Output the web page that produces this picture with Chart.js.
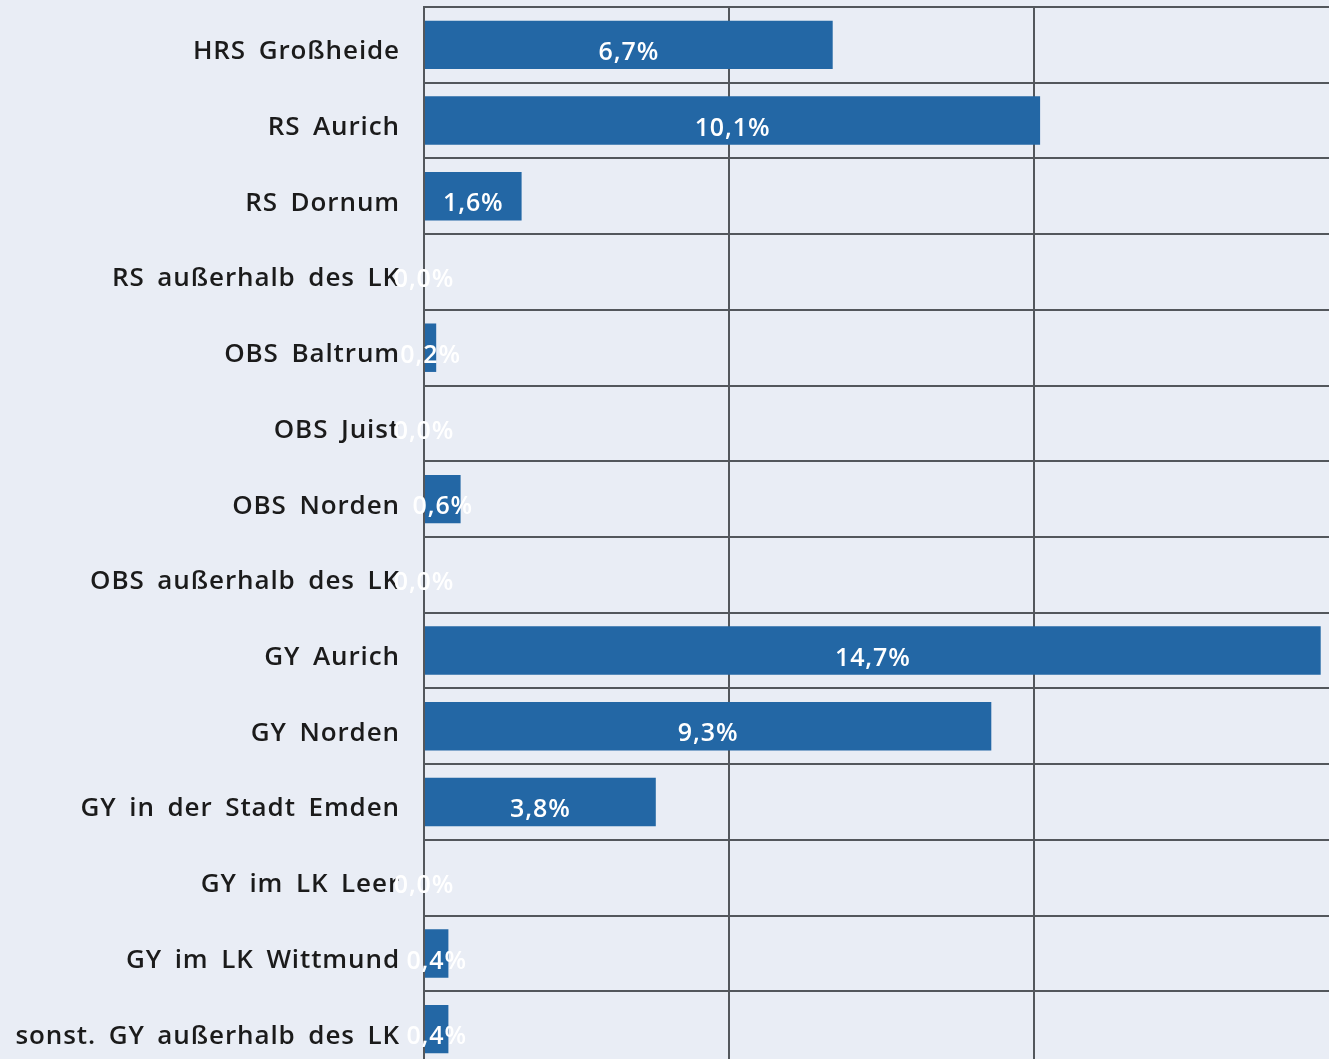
<!DOCTYPE html>
<html>
<head>
<meta charset="utf-8">
<script src="https://cdn.jsdelivr.net/npm/chart.js@4.4.1/dist/chart.umd.min.js"></script>
<style>
  html, body { margin: 0; padding: 0; background: #e9edf5; overflow: hidden; }
  #wrap { width: 1329px; height: 1059px; overflow: hidden; }
  canvas { display: block; }
</style>
</head>
<body>
<div id="wrap">
  <canvas id="chart" width="1345" height="1075"></canvas>
</div>
<script>
// === DATA ===
const schools = [
  "HRS Großheide",
  "RS Aurich",
  "RS Dornum",
  "RS außerhalb des LK",
  "OBS Baltrum",
  "OBS Juist",
  "OBS Norden",
  "OBS außerhalb des LK",
  "GY Aurich",
  "GY Norden",
  "GY in der Stadt Emden",
  "GY im LK Leer",
  "GY im LK Wittmund",
  "sonst. GY außerhalb des LK"
];
const shares = [6.7, 10.1, 1.6, 0.0, 0.2, 0.0, 0.6, 0.0, 14.7, 9.3, 3.8, 0.0, 0.4, 0.4];
const xTicks = [0, 5, 10, 15];

const barColor = "#2367a5";
const gridColor = "#53575c";
const fontFamily = "'Open Sans', 'Noto Sans', sans-serif";

// === HELPERS ===
function formatShare(v) {
  return v.toFixed(1).replace(".", ",") + "%";
}

// a bit of letter and word spacing, like the original font
const textSpacing = {
  id: "textSpacing",
  beforeDraw(chart) {
    chart.ctx.letterSpacing = "0.9px";
    chart.ctx.wordSpacing = "5px";
  }
};

// white value labels centred on each bar
const valueLabels = {
  id: "valueLabels",
  afterDatasetsDraw(chart) {
    const { ctx } = chart;
    const meta = chart.getDatasetMeta(0);
    ctx.save();
    ctx.font = `600 25px ${fontFamily}`;
    ctx.fillStyle = "#ffffff";
    ctx.textAlign = "center";
    ctx.textBaseline = "middle";
    meta.data.forEach((bar, i) => {
      const x = (bar.x + bar.base) / 2;
      ctx.fillText(formatShare(shares[i]), x, bar.y + 8);
    });
    ctx.restore();
  }
};

// === CHART ===
const ctx = document.getElementById("chart").getContext("2d");
new Chart(ctx, {
  type: "bar",
  data: {
    labels: schools,
    datasets: [{
      data: shares,
      backgroundColor: barColor,
      borderWidth: 0,
      barPercentage: 0.64,
      categoryPercentage: 1
    }]
  },
  options: {
    indexAxis: "y",
    responsive: false,
    animation: false,
    layout: { padding: { top: 7, right: 6, bottom: 8, left: 0 } },
    plugins: {
      legend: { display: false },
      tooltip: { enabled: false }
    },
    scales: {
      x: {
        min: 0,
        max: 15,
        afterBuildTicks: scale => {
          scale.ticks = xTicks.map(v => ({ value: v }));
        },
        ticks: { display: false },
        grid: { color: gridColor, lineWidth: 2, drawTicks: false },
        border: { display: false }
      },
      y: {
        afterFit: scale => {
          scale.width = 424;
          scale.paddingTop = 0;
          scale.paddingBottom = 0;
        },
        ticks: {
          color: "#1b1b1b",
          padding: 24,
          labelOffset: 7,
          font: { family: fontFamily, size: 26, weight: "600" }
        },
        grid: { color: gridColor, lineWidth: 2, drawTicks: false, offset: true },
        border: { color: gridColor, width: 2 }
      }
    }
  },
  plugins: [textSpacing, valueLabels]
});
</script>
</body>
</html>
